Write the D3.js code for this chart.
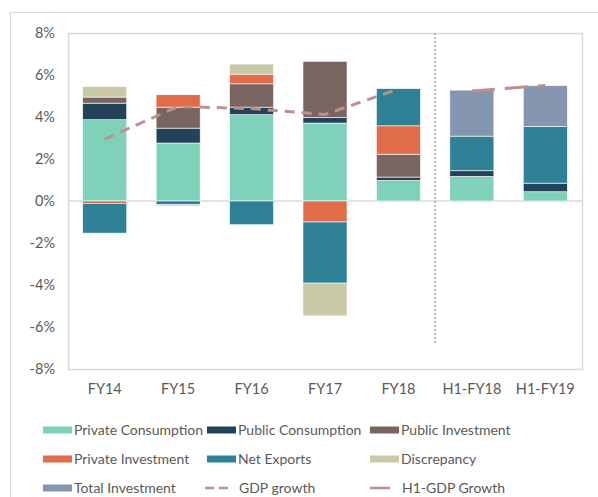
<!DOCTYPE html>
<meta charset="utf-8" />
<script src="https://d3js.org/d3.v7.min.js"></script>
<style>
    body { margin: 0; background: #fff; }
    text { font-family: Lato, 'Open Sans', sans-serif; fill: #595959; }
</style>
<div id="my_dataviz"></div>

<script>
    // data (percentage points of GDP growth)
    const categories = ['FY14', 'FY15', 'FY16', 'FY17', 'FY18', 'H1-FY18', 'H1-FY19']
    const privateConsumption = [3.87, 2.76, 4.11, 3.71, 0.98, 1.17, 0.44]
    const publicConsumption = [0.79, 0.71, 0.36, 0.27, 0.16, 0.27, 0.41]
    const publicInvestment = [0.29, 1.0, 1.11, 2.67, 1.09, 0, 0]
    const privateInvestment = [-0.11, 0.59, 0.46, -1.0, 1.35, 0, 0]
    const netExports = [-1.42, -0.18, -1.13, -2.91, 1.77, 1.65, 2.7]
    const discrepancy = [0.5, -0.06, 0.48, -1.56, 0, 0, 0]
    const totalInvestment = [0, 0, 0, 0, 0, 2.19, 1.94]
    const gdpCats = ['FY14', 'FY15', 'FY16', 'FY17', 'FY18']
    const gdpGrowth = [2.95, 4.5, 4.4, 4.12, 5.33]
    const h1Cats = ['H1-FY18', 'H1-FY19']
    const h1Growth = [5.24, 5.5]
    const yTicks = [-8, -6, -4, -2, 0, 2, 4, 6, 8]
    const dividerSpan = [8, -6.8]

    const seriesNames = ['Private Consumption', 'Public Consumption', 'Public Investment',
        'Private Investment', 'Net Exports', 'Discrepancy', 'Total Investment']
    const seriesValues = [privateConsumption, publicConsumption, publicInvestment,
        privateInvestment, netExports, discrepancy, totalInvestment]
    const colors = ['#7fd1b9', '#22435a', '#7a6460', '#e06c4a', '#2e8196', '#c9c9a8', '#8496b0']
    const lineColor = '#bf8f8f'

    const W = 598, H = 497
    const svg = d3.select('#my_dataviz').append('svg')
        .attr('width', W).attr('height', H)

    // outer chart frame
    svg.append('rect')
        .attr('x', 10.5).attr('y', 12.5)
        .attr('width', W).attr('height', H)
        .attr('fill', 'none').attr('stroke', '#d9d9d9')

    const x = d3.scaleBand().domain(categories).range([68, 582])
        .paddingInner(0.4).paddingOuter(0.2)
    const y = d3.scaleLinear().domain([-8, 8]).range([369, 33])

    // plot area border
    svg.append('rect')
        .attr('x', 68.5).attr('y', y(8) + 0.5)
        .attr('width', 582 - 68).attr('height', y(-8) - y(8))
        .attr('fill', 'none').attr('stroke', '#d9d9d9').attr('stroke-width', 1.5)

    // zero line
    svg.append('line')
        .attr('x1', 68).attr('x2', 582)
        .attr('y1', y(0)).attr('y2', y(0))
        .attr('stroke', '#d9d9d9').attr('stroke-width', 1.5)

    // y axis labels
    const yAxis = svg.append('g')
        .attr('transform', 'translate(55,0)')
        .call(d3.axisLeft(y).tickValues(yTicks).tickSize(0).tickPadding(0)
            .tickFormat(d => d + '%'))
    yAxis.select('.domain').remove()
    yAxis.selectAll('text').attr('font-size', 14.5).attr('font-family', 'Lato')

    // x axis labels
    const xAxis = svg.append('g')
        .attr('transform', `translate(0,${y(-8) + 15})`)
        .call(d3.axisBottom(x).tickSize(0).tickPadding(0))
    xAxis.select('.domain').remove()
    xAxis.selectAll('text').attr('font-size', 14.5).attr('font-family', 'Lato')

    // stacked bars
    const table = categories.map((c, i) => {
        const row = { cat: c }
        seriesNames.forEach((s, j) => row[s] = seriesValues[j][i])
        return row
    })
    const stacked = d3.stack().keys(seriesNames).offset(d3.stackOffsetDiverging)(table)

    svg.selectAll('.series')
        .data(stacked)
        .join('g')
        .attr('class', 'series')
        .attr('fill', (d, i) => colors[i])
        .selectAll('rect')
        .data(d => d.filter(p => p[1] - p[0] !== 0))
        .join('rect')
        .attr('x', d => x(d.data.cat))
        .attr('width', x.bandwidth())
        .attr('y', d => y(Math.max(d[0], d[1])))
        .attr('height', d => Math.abs(y(d[0]) - y(d[1])))
        .attr('stroke', '#fff')
        .attr('stroke-width', 0.6)

    // divider between annual and half-year data
    const divX = x(categories[5]) - x.step() * x.paddingInner() / 2
    svg.append('line')
        .attr('x1', divX).attr('x2', divX)
        .attr('y1', y(dividerSpan[0])).attr('y2', y(dividerSpan[1]))
        .attr('stroke', '#a6a6a6').attr('stroke-width', 1.5)
        .attr('stroke-dasharray', '2,2')

    // GDP lines
    const cx = c => x(c) + x.bandwidth() / 2
    svg.append('path')
        .datum(gdpGrowth)
        .attr('fill', 'none')
        .attr('stroke', lineColor)
        .attr('stroke-width', 3)
        .attr('stroke-dasharray', '10,7')
        .attr('d', d3.line().x((d, i) => cx(gdpCats[i])).y(d => y(d)))

    svg.append('path')
        .datum(h1Growth)
        .attr('fill', 'none')
        .attr('stroke', lineColor)
        .attr('stroke-width', 3)
        .attr('stroke-dasharray', '23,10')
        .attr('d', d3.line().x((d, i) => cx(h1Cats[i])).y(d => y(d)))

    // legend
    const legendItems = [
        { name: 'Private Consumption', type: 'box', color: colors[0] },
        { name: 'Public Consumption', type: 'box', color: colors[1] },
        { name: 'Public Investment', type: 'box', color: colors[2] },
        { name: 'Private Investment', type: 'box', color: colors[3] },
        { name: 'Net Exports', type: 'box', color: colors[4] },
        { name: 'Discrepancy', type: 'box', color: colors[5] },
        { name: 'Total Investment', type: 'box', color: colors[6] },
        { name: 'GDP growth', type: 'dash', color: lineColor },
        { name: 'H1-GDP Growth', type: 'line', color: lineColor }
    ]
    const colX = [43, 207, 370]
    const rowY = [430, 459, 488]

    const leg = svg.selectAll('.leg')
        .data(legendItems)
        .join('g')
        .attr('class', 'leg')
        .attr('transform', (d, i) => `translate(${colX[i % 3]},${rowY[Math.floor(i / 3)]})`)

    leg.filter(d => d.type === 'box').append('rect')
        .attr('x', 0).attr('y', -3.5)
        .attr('width', 29).attr('height', 7)
        .attr('fill', d => d.color)

    leg.filter(d => d.type === 'dash').append('line')
        .attr('x1', -2).attr('x2', 24)
        .attr('stroke', d => d.color).attr('stroke-width', 2.5)
        .attr('stroke-dasharray', '9,5')

    leg.filter(d => d.type === 'line').append('line')
        .attr('x1', 0).attr('x2', 20)
        .attr('stroke', d => d.color).attr('stroke-width', 2.5)

    leg.append('text')
        .attr('x', d => d.type === 'box' ? 31 : 32)
        .attr('y', 5)
        .attr('font-size', 14)
        .text(d => d.name)
</script>
